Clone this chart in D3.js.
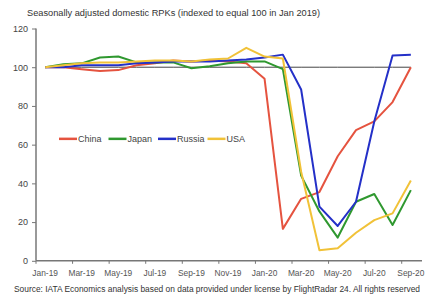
<!DOCTYPE html>
<html>
<head>
<meta charset="utf-8">
<script src="https://cdn.jsdelivr.net/npm/d3@7"></script>
<style>
  body { margin: 0; background: #fff; }
  svg { font-family: "Liberation Sans", Arial, sans-serif; }
</style>
</head>
<body>
<svg width="430" height="296"></svg>
<script>
const months = ['Jan-19','Feb-19','Mar-19','Apr-19','May-19','Jun-19','Jul-19','Aug-19','Sep-19','Oct-19','Nov-19','Dec-19',
  'Jan-20','Feb-20','Mar-20','Apr-20','May-20','Jun-20','Jul-20','Aug-20','Sep-20'];
const china  = [100, 100, 99, 98, 98.5, 101, 102, 103.5, 103, 103.5, 103, 102, 94, 16.5, 32, 35.5, 54, 67.5, 72, 82, 100];
const japan  = [100, 101.5, 102, 105, 105.5, 102.5, 102.5, 102.5, 99.5, 100.5, 102, 103, 103, 99, 44, 25.5, 12, 30.5, 34.5, 18.5, 36.5];
const russia = [100, 100, 101, 101, 101, 102, 102.5, 103, 103, 103, 103.5, 104, 105, 106.5, 88.5, 28, 18, 30.5, 72, 106, 106.5];
const usa    = [100, 101, 102, 102.5, 102.5, 103, 103.5, 103.5, 103, 104, 104.5, 110, 105.5, 104.5, 46, 5.5, 6.5, 14.5, 21, 24.5, 41.5];
const baseline = months.map(() => 100);
const yTicks = [0, 20, 40, 60, 80, 100, 120];

const series = [
  {name: 'China', values: china, color: '#e5533f'},
  {name: 'Japan', values: japan, color: '#2f982f'},
  {name: 'Russia', values: russia, color: '#2430c8'},
  {name: 'USA', values: usa, color: '#f1c238'}
];

const svg = d3.select('svg');
const margin = {top: 28.5, left: 36, right: 6, bottom: 35};
const width = +svg.attr('width');
const height = +svg.attr('height');
const innerWidth = width - margin.left - margin.right;
const innerHeight = height - margin.top - margin.bottom;

const g = svg.append('g').attr('transform', `translate(${margin.left},${margin.top})`);

const xScale = d3.scaleBand().domain(months).range([0, innerWidth - 4]);
const xPos = i => xScale(months[i]) + xScale.bandwidth() / 2;
const yScale = d3.scaleLinear().domain([0, 120]).range([innerHeight - 0.2, 0]);

svg.append('text')
  .attr('x', 27).attr('y', 16)
  .attr('font-size', 9.6)
  .attr('fill', '#333')
  .attr('textLength', 293).attr('lengthAdjust', 'spacingAndGlyphs')
  .text('Seasonally adjusted domestic RPKs (indexed to equal 100 in Jan 2019)');

// y axis
const yAxisG = g.append('g')
  .call(d3.axisLeft(yScale).tickValues(yTicks).tickSize(4).tickPadding(4));
yAxisG.select('.domain').attr('stroke', '#777').attr('stroke-width', 1.5).attr('d', `M0,0V${yScale(0)}`);
yAxisG.selectAll('.tick line').attr('stroke', '#777');
yAxisG.selectAll('.tick text').attr('font-size', 9).attr('fill', '#444')
  .attr('font-family', '"Liberation Sans", Arial, sans-serif');

// x axis: ticks every two categories at band boundaries
const xAxisG = g.append('g').attr('transform', `translate(0,${yScale(0)})`);
xAxisG.append('line').attr('x1', 0).attr('x2', innerWidth - 2)
  .attr('stroke', '#777').attr('stroke-width', 1.5);
xAxisG.selectAll('.xt').data(months.filter((d, i) => i % 2 === 0))
  .enter().append('line').attr('class', 'xt')
  .attr('x1', d => xScale(d)).attr('x2', d => xScale(d))
  .attr('y1', 0).attr('y2', 3).attr('stroke', '#777');
xAxisG.selectAll('.xl').data(months.filter((d, i) => i % 2 === 0))
  .enter().append('text').attr('class', 'xl')
  .attr('x', d => xScale(d) + xScale.bandwidth() / 2)
  .attr('y', 15)
  .attr('text-anchor', 'middle')
  .attr('font-size', 8.4).attr('fill', '#555')
  .text(d => d);

const line = d3.line().x((d, i) => xPos(i)).y(d => yScale(d));

g.append('path').datum(baseline)
  .attr('d', line).attr('fill', 'none')
  .attr('stroke', '#444').attr('stroke-width', 1);

g.selectAll('.series').data(series)
  .enter().append('path').attr('class', 'series')
  .attr('d', d => line(d.values))
  .attr('fill', 'none')
  .attr('stroke', d => d.color)
  .attr('stroke-width', 2)
  .attr('stroke-linejoin', 'round');

// legend
const legend = g.selectAll('.legend').data(series)
  .enter().append('g').attr('class', 'legend')
  .attr('transform', (d, i) => `translate(${23 + i * 49.5},${yScale(63)})`);
legend.append('line').attr('x1', 0).attr('x2', 18)
  .attr('stroke', d => d.color).attr('stroke-width', 2.5);
legend.append('text').attr('x', 19).attr('y', 3.2)
  .attr('font-size', 9).attr('fill', '#444')
  .text(d => d.name);

svg.append('text')
  .attr('x', 14).attr('y', 291.5)
  .attr('font-size', 9.2)
  .attr('fill', '#333')
  .attr('textLength', 406).attr('lengthAdjust', 'spacingAndGlyphs')
  .text('Source: IATA Economics analysis based on data provided under license by FlightRadar 24. All rights reserved');
</script>
</body>
</html>
